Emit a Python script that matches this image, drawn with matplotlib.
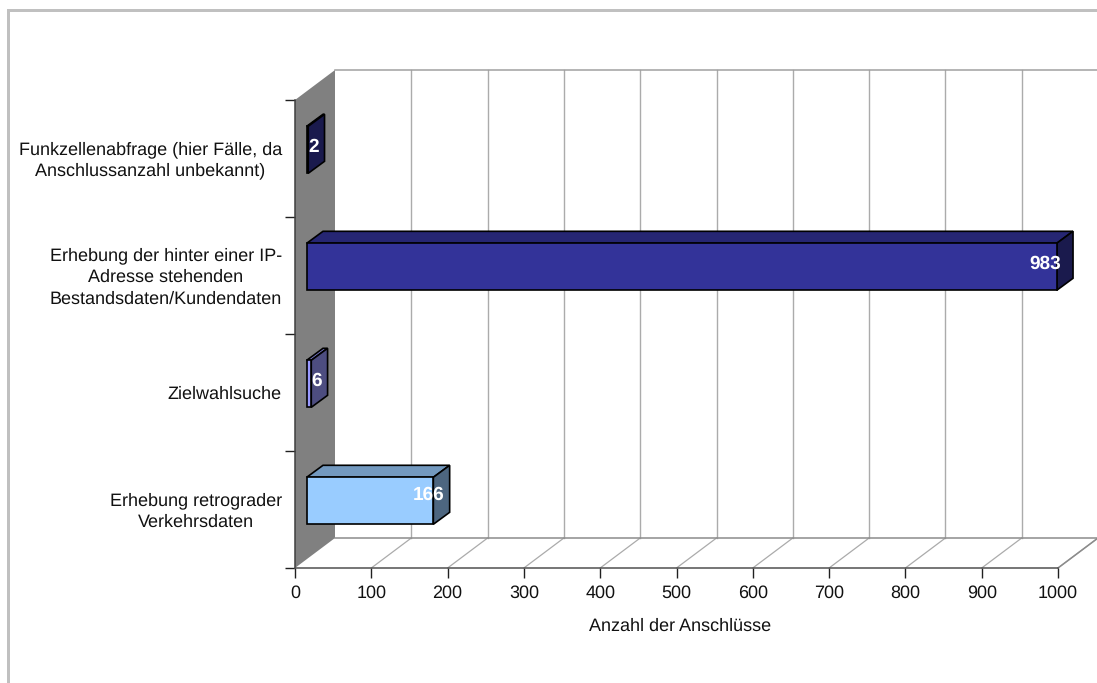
import matplotlib
matplotlib.use("Agg")
import matplotlib.pyplot as plt
from matplotlib.patches import Polygon, Rectangle
from matplotlib.colors import to_rgb

# bottom to top on the y axis
categories = [
    "Erhebung retrograder\nVerkehrsdaten",
    "Zielwahlsuche",
    "Erhebung der hinter einer IP-\nAdresse stehenden\nBestandsdaten/Kundendaten",
    "Funkzellenabfrage (hier Fälle, da\nAnschlussanzahl unbekannt)",
]
values = [166, 6, 983, 2]
colors = ["#99CCFF", "#9999FF", "#333399", "#333399"]
x_ticks = [0, 100, 200, 300, 400, 500, 600, 700, 800, 900, 1000]
x_label = "Anzahl der Anschlüsse"

W, H = 1097, 683
LEFT, RIGHT, TOP, BOTTOM = 295, 1058, 100, 568

plt.rcParams["font.family"] = ["Liberation Sans", "DejaVu Sans"]
plt.rcParams["text.hinting"] = "no_hinting"
plt.rcParams["text.hinting_factor"] = 1
fig = plt.figure(figsize=(W / 100, H / 100), dpi=100)
ax = fig.add_axes([LEFT / W, 1 - BOTTOM / H, (RIGHT - LEFT) / W, (BOTTOM - TOP) / H])
ax.set_xlim(0, 1000)
ax.set_ylim(0, 4)

# pixel sizes turned into data units for the fake 3d depth
px_x = 1000 / (RIGHT - LEFT)
px_y = 4 / (BOTTOM - TOP)
depth_x, depth_y = 40 * px_x, 30 * px_y
bar_dx, bar_dy = 16.3 * px_x, 12 * px_y
gap_x, gap_y = 11.7 * px_x, 8.7 * px_y
bar_h = 47 * px_y


def poly(pts, face, edge="none", lw=0.0, z=1):
    ax.add_patch(Polygon(pts, closed=True, facecolor=face, edgecolor=edge,
                         linewidth=lw, joinstyle="miter", clip_on=False, zorder=z))


def shade(color, f):
    return tuple(c * f for c in to_rgb(color))


# side wall
poly([(0, 0), (depth_x, depth_y), (depth_x, 4 + depth_y), (0, 4)], "#808080", z=1)

# back wall grid, floor grid
grid = "#ABABAB"
for t in x_ticks[1:]:
    ax.plot([t + depth_x] * 2, [depth_y, 4 + depth_y], color=grid, lw=1.0, clip_on=False, zorder=1)
    ax.plot([t, t + depth_x], [0, depth_y], color=grid, lw=0.9, clip_on=False, zorder=1)
ax.plot([depth_x, 1000 + depth_x], [4 + depth_y] * 2, color="#A0A0A0", lw=1.1, clip_on=False, zorder=1)
ax.plot([depth_x, 1000 + depth_x], [depth_y] * 2, color="#8C8C8C", lw=1.1, clip_on=False, zorder=1)
ax.plot([1000, 1000 + depth_x], [0, depth_y], color="#8C8C8C", lw=1.1, clip_on=False, zorder=1)

# bars: front, top and end faces
label_dx = [11.4, 10.7, 4.3, 10.8]
label_dy = [6.0, 2.7, 2.7, 2.7]
edge_lw = 1.2
for i, (v, c) in enumerate(zip(values, colors)):
    x0 = gap_x
    x1 = gap_x + v
    y0 = i + 0.5 + gap_y - bar_h / 2
    y1 = y0 + bar_h
    poly([(x0, y1), (x1, y1), (x1 + bar_dx, y1 + bar_dy), (x0 + bar_dx, y1 + bar_dy)],
         shade(c, 0.75), "#000000", edge_lw, z=3)
    poly([(x1, y0), (x1 + bar_dx, y0 + bar_dy), (x1 + bar_dx, y1 + bar_dy), (x1, y1)],
         shade(c, 0.5), "#000000", edge_lw, z=3)
    poly([(x0, y0), (x1, y0), (x1, y1), (x0, y1)], c, "#000000", edge_lw, z=4)
    ax.text(x1 + label_dx[i] * px_x, (y0 + y1) / 2 + label_dy[i] * px_y, str(v), color="white",
            fontweight="bold", fontsize=13.5, ha="right", va="center", zorder=5, clip_on=False)

# axes
for s in ("top", "right"):
    ax.spines[s].set_visible(False)
ax.spines["bottom"].set_color("#505050")
ax.spines["left"].set_color("#404040")
ax.spines["bottom"].set_linewidth(1.1)
ax.spines["left"].set_linewidth(1.1)
ax.spines["bottom"].set_zorder(2)
ax.spines["left"].set_zorder(2)
ax.patch.set_alpha(0)
ax.set_xticks(x_ticks)
ax.set_yticks(range(5))
ax.set_yticklabels([])
ax.tick_params(axis="both", length=7.2, width=1.0, color="#202020")
ax.tick_params(axis="x", pad=5, labelsize=13, labelcolor="#111111")
ax.set_xlabel(x_label, fontsize=13, labelpad=11.5, color="#111111", x=0.505)

for i, cat in enumerate(categories):
    ax.text(-13 * px_x, i + 0.5 - 1.5 * px_y, cat, ha="right", va="center", multialignment="center",
            fontsize=13, color="#111111", linespacing=1.38, clip_on=False)

# outer frame, top and left sides only
fig.add_artist(Rectangle((7 / W, 1 - 12 / H), 1 - 7 / W, 3 / H, transform=fig.transFigure,
                         facecolor="#C0C0C0", edgecolor="none"))
fig.add_artist(Rectangle((7 / W, 0), 3 / W, 1 - 9 / H, transform=fig.transFigure,
                         facecolor="#C0C0C0", edgecolor="none"))

fig.savefig("out.png", dpi=100)
